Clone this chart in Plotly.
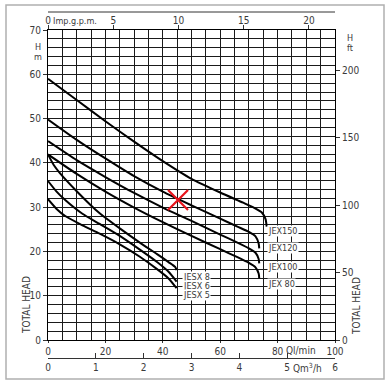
import plotly.graph_objects as go

# ---- data (flow in l/min, head in m) ----
jex150_q = [0, 10, 20, 30, 40, 50, 60, 68, 72, 74.5, 75.8, 76.2]
jex150_h = [59.0, 54.2, 49.4, 44.8, 40.4, 36.4, 33.3, 31.0, 29.8, 28.8, 27.3, 25.6]
jex120_q = [0, 10, 20, 30, 40, 50, 60, 66, 70, 72.3, 73.4, 73.6]
jex120_h = [49.8, 45.2, 41.0, 37.0, 33.5, 30.4, 27.4, 25.6, 24.4, 23.4, 21.8, 20.7]
jex100_q = [0, 10, 20, 30, 40, 50, 60, 66, 70, 72.3, 73.4, 73.6]
jex100_h = [44.9, 40.6, 36.8, 33.2, 29.9, 26.9, 23.8, 22.0, 20.7, 19.7, 18.3, 17.3]
jex80_q = [0, 10, 20, 30, 40, 50, 60, 66, 70, 72.3, 73.4, 73.6]
jex80_h = [41.9, 37.5, 33.5, 29.9, 26.6, 23.5, 20.5, 18.7, 17.4, 16.4, 15.0, 13.9]
jesx8_q = [0, 2, 4, 10, 18, 25, 32, 38, 42, 44.3, 44.8]
jesx8_h = [41.9, 39.5, 37.8, 33.6, 28.6, 25.2, 22.0, 19.4, 17.6, 16.5, 15.8]
jesx6_q = [0, 3, 6, 12, 18, 25, 32, 38, 42, 44.8]
jesx6_h = [35.9, 33.5, 31.6, 28.5, 26.2, 23.5, 20.4, 17.6, 15.4, 13.2]
jesx5_q = [0, 3, 6, 12, 18, 25, 32, 38, 42, 44.8]
jesx5_h = [31.8, 29.6, 28.0, 25.9, 24.0, 21.6, 18.8, 16.0, 13.9, 11.7]

curve_names = ["JEX150", "JEX120", "JEX100", "JEX 80", "JESX 8", "JESX 6", "JESX 5"]
mark_q = [45.3]
mark_h = [31.6]

lpm_ticks = [0, 20, 40, 60, 80, 100]
head_m_ticks = [0, 10, 20, 30, 40, 50, 60, 70]
head_ft_ticks = [0, 50, 100, 150, 200]
gpm_ticks = [0, 5, 10, 15, 20]
m3h_ticks = [0, 1, 2, 3, 4, 5, 6]

# ---- geometry helpers ----
W, H = 391, 386
L, R, T, B = 48, 335, 12, 358          # paper area in pixels
PLOT_TOP, PLOT_BOT = 30, 340


def px(x):
    return (x - L) / (R - L)


def py(y):
    return (B - y) / (B - T)


FONT = "Liberation Sans Narrow, DejaVu Sans Condensed, Arial Narrow, sans-serif"
TXT = "#3a3a3a"

fig = go.Figure()
series = [(jex150_q, jex150_h), (jex120_q, jex120_h), (jex100_q, jex100_h),
          (jex80_q, jex80_h), (jesx8_q, jesx8_h), (jesx6_q, jesx6_h), (jesx5_q, jesx5_h)]
for (q, h), name in zip(series, curve_names):
    fig.add_trace(go.Scatter(x=q, y=h, mode="lines", name=name,
                             line=dict(color="black", width=2, shape="spline", smoothing=0.6),
                             hoverinfo="skip"))

fig.add_trace(go.Scatter(x=mark_q, y=mark_h, mode="markers",
                         marker=dict(symbol="x-thin", size=20,
                                     line=dict(color="#e8141b", width=2.2)),
                         hoverinfo="skip"))

dom_lo = py(PLOT_BOT)
dom_hi = py(PLOT_TOP)

axis_font = dict(family=FONT, size=10, color=TXT)
GRID = "#1a1a1a"

fig.update_layout(
    width=W, height=H,
    margin=dict(l=L, r=W - R, t=T, b=H - B, pad=0, autoexpand=False),
    paper_bgcolor="white", plot_bgcolor="white",
    showlegend=False,
    font=axis_font,
    xaxis=dict(range=[0, 100], tickvals=lpm_ticks, ticks="outside", ticklen=2,
               tickcolor="#333", showgrid=True, gridcolor=GRID, gridwidth=1.1,
               minor=dict(dtick=5, showgrid=True, gridcolor=GRID, gridwidth=1.1),
               showline=True, linecolor="black", linewidth=1.2, mirror=True,
               zeroline=False, tickfont=axis_font, anchor="y", automargin=False),
    yaxis=dict(range=[0, 70], domain=[dom_lo, dom_hi], tickvals=head_m_ticks,
               ticks="outside", ticklen=4, tickcolor="#333",
               showgrid=True, gridcolor=GRID, gridwidth=1.1,
               minor=dict(dtick=2, showgrid=True, gridcolor=GRID, gridwidth=1.1),
               showline=True, linecolor="black", linewidth=1.2, mirror=True,
               zeroline=False, tickfont=axis_font, automargin=False),
    xaxis2=dict(range=[0, 100 / 4.546], tickvals=gpm_ticks, overlaying="x", side="top",
                anchor="y", ticks="outside", ticklen=4, tickcolor="#333",
                ticklabelstandoff=-3,
                showgrid=False, showline=False, zeroline=False, tickfont=axis_font,
                automargin=False),
    yaxis2=dict(range=[0, 70 / 0.3048], tickvals=head_ft_ticks, overlaying="y",
                side="right", anchor="x", ticks="outside", ticklen=4, tickcolor="#333",
                showgrid=False, showline=False, zeroline=False, tickfont=axis_font,
                automargin=False),
    xaxis3=dict(range=[0, 6], tickvals=m3h_ticks, overlaying="x", anchor="free",
                position=0, side="bottom", ticks="inside", ticklen=5, tickcolor="#333",
                showgrid=False, showline=True, linecolor="#333", linewidth=1,
                zeroline=False, tickfont=axis_font, automargin=False),
)

# dummy traces to activate secondary axes
fig.add_trace(go.Scatter(x=[None], y=[None], xaxis="x2", yaxis="y", showlegend=False))
fig.add_trace(go.Scatter(x=[None], y=[None], xaxis="x", yaxis="y2", showlegend=False))
fig.add_trace(go.Scatter(x=[None], y=[None], xaxis="x3", yaxis="y", showlegend=False))

shapes = [
    # line above the Imp.g.p.m. scale
    dict(type="line", xref="paper", yref="paper", x0=0, x1=1, y0=1, y1=1,
         line=dict(color="#333", width=1)),
    # outer frame
    dict(type="rect", xref="paper", yref="paper", x0=px(6), x1=px(384), y0=py(5), y1=py(379),
         line=dict(color="#b0b0b0", width=1.5)),
]
fig.update_layout(shapes=shapes)

ann = []


def text(x, y, s, xanchor="center", size=10, angle=0, bg=None, yanchor="middle"):
    d = dict(xref="paper", yref="paper", x=px(x), y=py(y), text=s, showarrow=False,
             xanchor=xanchor, yanchor=yanchor, textangle=angle,
             font=dict(family=FONT, size=size, color=TXT))
    if bg:
        d.update(bgcolor=bg, borderpad=0)
    ann.append(d)


text(75, 21, "Imp.g.p.m.", size=9)
text(38, 47, "H", size=9)
text(38, 57, "m", size=9)
text(345, 38, "H", size=9, xanchor="left")
text(345, 48, "ft", size=9, xanchor="left")
text(26, 305, "TOTAL HEAD", angle=-90, size=10)
text(356, 306, "TOTAL HEAD", angle=-90, size=10)
text(301, 350, "Ql/min", size=10)
text(307, 368, "Qm<sup>3</sup>/h", size=10)

# curve labels (white boxes over the grid)
jex_label_y = [231, 248, 267, 284]
for name, yy in zip(curve_names[:4], jex_label_y):
    text(267, yy, name, xanchor="left", size=9, bg="white")
jesx_label_y = [277, 286, 295]
for name, yy in zip(curve_names[4:], jesx_label_y):
    text(182, yy, name, xanchor="left", size=9, bg="white")

fig.update_layout(annotations=ann)

fig.write_html("out.html",
               config={"displayModeBar": False},
               post_script="document.body.style.margin='0';document.body.style.padding='0';")
